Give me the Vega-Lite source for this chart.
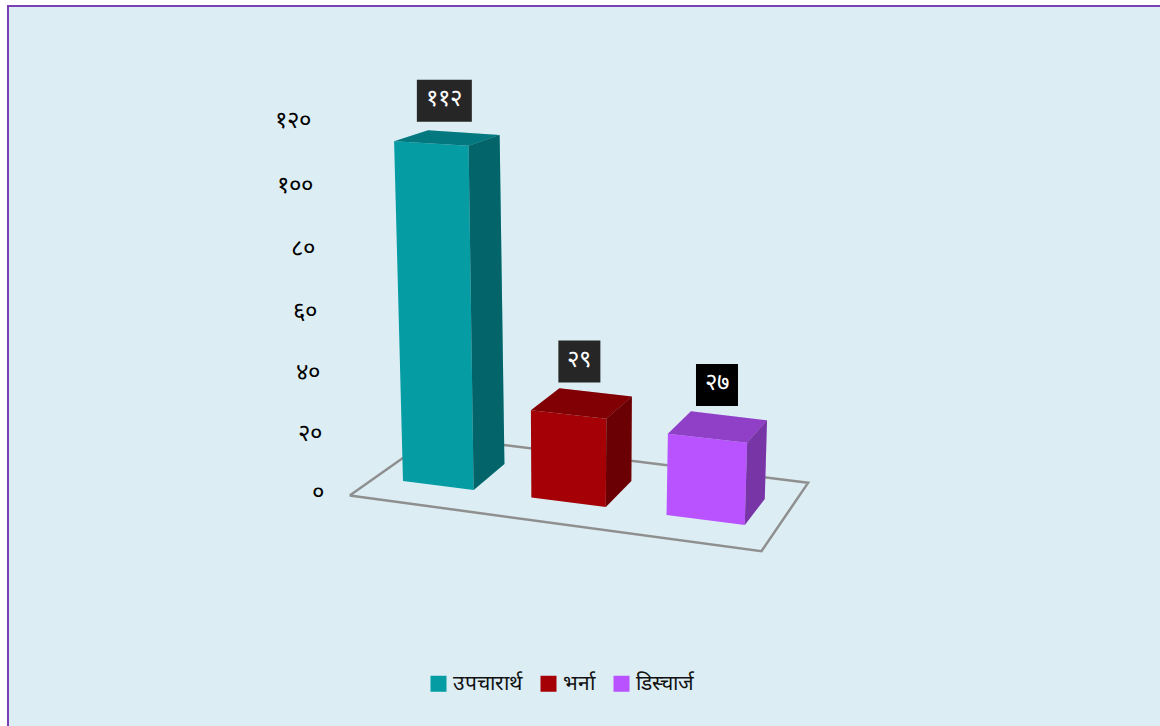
{
"$schema":"https://vega.github.io/schema/vega-lite/v6.json",
"width":1160,"height":726,
"autosize":{"type":"none"},
"padding":{"left":8,"top":6,"right":0,"bottom":0},
"background":"#ffffff",
"view":{"fill":"#DCEEF4","stroke":"#7B3FB5","strokeWidth":2},
"datasets":{
"bars":[{"name":"उपचारार्थ","value":112,"label":"११२"},{"name":"भर्ना","value":29,"label":"२९"},{"name":"डिस्चार्ज","value":27,"label":"२७"}],
"floor":[{"corner":0,"X":-0.41,"Z":-0.7},{"corner":1,"X":4.9,"Z":-0.85},{"corner":2,"X":4.87,"Z":1.77},{"corner":3,"X":-0.35,"Z":1.6},{"corner":4,"X":-0.41,"Z":-0.7}],
"ticks":[{"tick":0,"label":"०"},{"tick":20,"label":"२०"},{"tick":40,"label":"४०"},{"tick":60,"label":"६०"},{"tick":80,"label":"८०"},{"tick":100,"label":"१००"},{"tick":120,"label":"१२०"}]
},
"encoding":{
"x":{"field":"px","type":"quantitative","axis":null,"scale":{"domain":[8,1168],"nice":false,"zero":false}},
"y":{"field":"py","type":"quantitative","axis":null,"scale":{"domain":[732,6],"nice":false,"zero":false}}
},
"layer":[
{"data":{"name":"floor"},
"transform":[
{"calculate":"403+71*datum.X+1.1*datum.X*datum.X","as":"x0"},
{"calculate":"481+0.1287*(datum.x0-403)","as":"y0"},
{"calculate":"datum.x0+datum.Z*(34-0.04*(datum.x0-394))","as":"px"},
{"calculate":"datum.y0-datum.Z*26","as":"py"}],
"mark":{"type":"line","stroke":"#8F8F8F","strokeWidth":2.5,"strokeJoin":"miter"},
"encoding":{"order":{"field":"corner","type":"quantitative"}}},
{"data":{"name":"bars"},
"transform":[
{"calculate":"indexof(['उपचारार्थ','भर्ना','डिस्चार्ज'],datum.name)","as":"slot"},
{"calculate":"[0,1,2]","as":"fi"},{"flatten":["fi"]},
{"calculate":"[0,1,2,3,4]","as":"v"},{"flatten":["v"]},
{"calculate":"[[0,1,1,0,0],[1,1,1,1,1],[0,1,1,0,0]][datum.fi][datum.v]","as":"cx"},
{"calculate":"[[0,0,0,0,0],[0,1,1,0,0],[0,0,1,1,0]][datum.fi][datum.v]","as":"cz"},
{"calculate":"[[1,1,0,0,1],[1,1,0,0,1],[1,1,1,1,1]][datum.fi][datum.v]","as":"ch"},
{"calculate":"['front','side','top'][datum.fi]","as":"face"},
{"calculate":"datum.slot*1.76+0.98*datum.cx","as":"X"},
{"calculate":"403+71*datum.X+1.1*datum.X*datum.X","as":"x0"},
{"calculate":"481+0.1287*(datum.x0-403)","as":"y0"},
{"calculate":"datum.ch*datum.value","as":"h"},
{"calculate":"datum.x0+datum.h*(datum.x0-565)*0.00049","as":"xf"},
{"calculate":"datum.y0-datum.h*(3.0+0.04*datum.cx+0.0003*datum.h)","as":"yf"},
{"calculate":"datum.xf+datum.cz*(34-0.04*(datum.xf-394))","as":"px"},
{"calculate":"datum.yf-datum.cz*(26-0.135*datum.h)","as":"py"}],
"layer":[
{"mark":{"type":"line","stroke":null,"strokeWidth":0},
"encoding":{
"order":{"field":"v","type":"quantitative"},
"detail":{"field":"face"},
"fill":{"field":"name","type":"nominal","scale":{"domain":["उपचारार्थ","भर्ना","डिस्चार्ज"],"range":["#059CA3","#A40006","#B952FF"]},
"legend":{"title":null,"orient":"none","legendX":420,"legendY":667,"direction":"horizontal","symbolType":"square","symbolSize":256,"symbolStrokeWidth":0,"labelFontSize":21,"labelColor":"#111111","labelLimit":200,"labelOffset":4,"columnPadding":16}}}},
{"mark":{"type":"line","stroke":null,"strokeWidth":0,"fill":"#000000"},
"transform":[{"filter":"datum.face!=='front'"}],
"encoding":{
"order":{"field":"v","type":"quantitative"},
"detail":[{"field":"name"},{"field":"face"}],
"fillOpacity":{"field":"face","type":"nominal","legend":null,"scale":{"domain":["top","side"],"range":[0.22,0.35]}}}}
]},
{"data":{"name":"bars"},
"transform":[
{"calculate":"indexof(['उपचारार्थ','भर्ना','डिस्चार्ज'],datum.name)","as":"slot"},
{"calculate":"datum.slot*1.76+0.49","as":"X"},
{"calculate":"403+71*datum.X+1.1*datum.X*datum.X","as":"x0"},
{"calculate":"481+0.1287*(datum.x0-403)","as":"y0"},
{"calculate":"datum.x0+datum.value*(datum.x0-565)*0.00049","as":"xf"},
{"calculate":"datum.y0-datum.value*3.04","as":"yf"},
{"calculate":"datum.xf+0.5*(34-0.04*(datum.xf-394))-3+0.5*datum.slot*datum.slot","as":"px"},
{"calculate":"datum.yf-0.5*(26-0.135*datum.value)-42.5+0.032*datum.value","as":"py"},
{"calculate":"16+13*length(datum.label)","as":"w"},
{"calculate":"datum.px-datum.w/2","as":"bx0"},
{"calculate":"datum.px+datum.w/2","as":"bx1"},
{"calculate":"datum.py-21","as":"by0"},
{"calculate":"datum.py+21","as":"by1"}],
"layer":[
{"mark":{"type":"rect"},
"encoding":{
"x":{"field":"bx0","type":"quantitative"},"x2":{"field":"bx1"},
"y":{"field":"by0","type":"quantitative"},"y2":{"field":"by1"},
"fill":{"condition":{"test":"datum.value===27","value":"#000000"},"value":"#262626"}}},
{"mark":{"type":"text","fontSize":24,"color":"#ffffff","align":"center","baseline":"middle","dy":-2},
"encoding":{"text":{"field":"label"}}}
]},
{"data":{"name":"ticks"},
"transform":[
{"calculate":"324-0.11*datum.tick","as":"px"},
{"calculate":"492-2.95*datum.tick-0.00125*datum.tick*datum.tick","as":"py"}],
"mark":{"type":"text","fontSize":24,"color":"#000000","align":"right","baseline":"middle","dy":1},
"encoding":{"text":{"field":"label"}}}
]
}
